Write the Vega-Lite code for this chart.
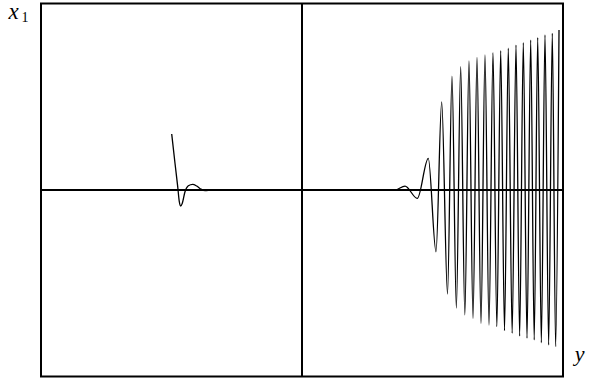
{
  "$schema": "https://vega.github.io/schema/vega-lite/v6.json",
  "width": 522,
  "height": 373,
  "autosize": {"type": "none"},
  "padding": {"left": 41, "top": 3.5, "right": 26, "bottom": 4.5},
  "background": "white",
  "config": {
    "view": {"stroke": "black", "strokeWidth": 2},
    "axis": {"grid": false, "ticks": false, "labels": false, "domain": false,
             "titleFont": "Liberation Serif", "titleFontStyle": "italic", "titleFontWeight": "normal",
             "titleFontSize": 22, "titleColor": "black", "titleAngle": 0,
             "titleBaseline": "alphabetic"}
  },
  "datasets": {
    "curve": [
      {"y": -0.4992, "x1": 0.3003},
      {"y": -0.4866, "x1": 0.1432},
      {"y": -0.4762, "x1": 0.0177},
      {"y": -0.4701, "x1": -0.0627},
      {"y": -0.4648, "x1": -0.0858},
      {"y": -0.4586, "x1": -0.0713},
      {"y": -0.4483, "x1": -0.0091},
      {"y": -0.4356, "x1": 0.0231},
      {"y": -0.4188, "x1": 0.0306},
      {"y": -0.4034, "x1": 0.0214},
      {"y": -0.3881, "x1": 0.0054},
      {"y": -0.3716, "x1": -0.0038},
      {"y": -0.3525, "x1": -0.0016},
      {"y": -0.3268, "x1": 0.0011},
      {"y": -0.3015, "x1": 0.0011},
      {"y": -0.2759, "x1": 0.0},
      {"y": 0.0, "x1": 0.0},
      {"y": 0.3563, "x1": 0.0},
      {"y": 0.3946, "x1": 0.021},
      {"y": 0.4418, "x1": -0.045},
      {"y": 0.4839, "x1": 0.170},
      {"y": 0.5134, "x1": -0.331},
      {"y": 0.5352, "x1": 0.473},
      {"y": 0.5575, "x1": -0.558},
      {"y": 0.5747, "x1": 0.611},
      {"y": 0.5914, "x1": -0.633},
      {"y": 0.6080, "x1": 0.661},
      {"y": 0.6239, "x1": -0.670},
      {"y": 0.6398, "x1": 0.692},
      {"y": 0.6552, "x1": -0.688},
      {"y": 0.6705, "x1": 0.711},
      {"y": 0.6858, "x1": -0.715},
      {"y": 0.7011, "x1": 0.724},
      {"y": 0.7165, "x1": -0.724},
      {"y": 0.7318, "x1": 0.736},
      {"y": 0.7466, "x1": -0.733},
      {"y": 0.7613, "x1": 0.747},
      {"y": 0.7759, "x1": -0.754},
      {"y": 0.7904, "x1": 0.760},
      {"y": 0.8052, "x1": -0.768},
      {"y": 0.8199, "x1": 0.777},
      {"y": 0.8339, "x1": -0.783},
      {"y": 0.8479, "x1": 0.790},
      {"y": 0.8621, "x1": -0.795},
      {"y": 0.8762, "x1": 0.804},
      {"y": 0.8897, "x1": -0.804},
      {"y": 0.9031, "x1": 0.817},
      {"y": 0.9170, "x1": -0.819},
      {"y": 0.9310, "x1": 0.831},
      {"y": 0.9450, "x1": -0.831},
      {"y": 0.9590, "x1": 0.840},
      {"y": 0.9718, "x1": -0.840},
      {"y": 0.9847, "x1": 0.858}
    ],
    "origin": [{"v": 0}]
  },
  "resolve": {"axis": {"y": "independent"}},
  "layer": [
    {
      "data": {"name": "curve"},
      "mark": {"type": "line", "color": "black", "strokeWidth": 1.3, "interpolate": "monotone"},
      "encoding": {
        "x": {"field": "y", "type": "quantitative", "scale": {"domain": [-1, 1], "nice": false, "zero": false},
              "axis": {"title": "y", "titleX": 538, "titleY": -16.5, "titleAlign": "center"}},
        "y": {"field": "x1", "type": "quantitative", "scale": {"domain": [-1, 1], "nice": false, "zero": false},
              "axis": {"title": "x", "titleX": -33, "titleY": 15, "titleAlign": "left", "titleFontSize": 23}}
      }
    },
    {
      "data": {"name": "origin"},
      "mark": {"type": "rule", "color": "black", "strokeWidth": 2},
      "encoding": {"x": {"field": "v", "type": "quantitative"}}
    },
    {
      "data": {"name": "origin"},
      "mark": {"type": "rule", "color": "black", "strokeWidth": 2},
      "encoding": {"y": {"field": "v", "type": "quantitative",
        "axis": {"orient": "right", "title": "1", "titleFontStyle": "normal", "titleFontSize": 14,
                 "titleX": -542, "titleY": 17.5, "titleAlign": "left"}}}
    }
  ]
}
